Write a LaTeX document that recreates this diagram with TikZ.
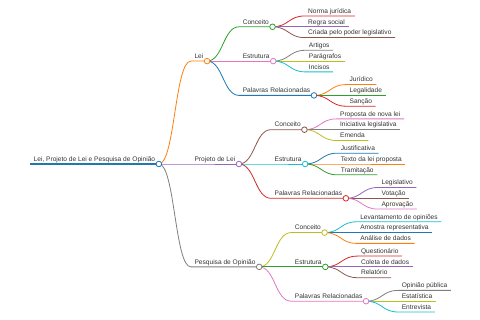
\documentclass[tikz,border=0pt]{standalone}
\usepackage{fontspec}
\setmainfont{Liberation Sans}
\usetikzlibrary{positioning,calc}

\definecolor{mmblue}{HTML}{1F77B4}
\definecolor{mmorange}{HTML}{FF7F0E}
\definecolor{mmgreen}{HTML}{2CA02C}
\definecolor{mmred}{HTML}{D62728}
\definecolor{mmpurple}{HTML}{9467BD}
\definecolor{mmbrown}{HTML}{8C564B}
\definecolor{mmpink}{HTML}{E377C2}
\definecolor{mmgray}{HTML}{7F7F7F}
\definecolor{mmolive}{HTML}{BCBD22}
\definecolor{mmcyan}{HTML}{17BECF}
\definecolor{txtgray}{HTML}{333333}

\tikzset{
  topic/.style={font=\fontsize{6.6}{7}\selectfont, text=txtgray, inner xsep=3.5pt,
    inner ysep=0pt, text height=5pt, text depth=2.5pt, anchor=south west},
  link/.style={line width=0.8pt},
  knob/.style={circle, draw, fill=white, line width=0.8pt, inner sep=0pt, minimum size=5.6pt},
}

\begin{document}
\begin{tikzpicture}[x=1pt, y=1pt]
    \useasboundingbox (0,0) rectangle (480,-320);
    % root
    \node[topic] (root) at (30,-164) {Lei, Projeto de Lei e Pesquisa de Opinião};
    % first level
    \node[right=32pt of root.south east, topic, yshift=102.9pt] (lei) {Lei};
    \node[right=32pt of root.south east, topic] (proj) {Projeto de Lei};
    \node[right=32pt of root.south east, topic, yshift=-102.9pt] (pesq) {Pesquisa de Opinião};
    % second level
    \node[right=32pt of lei.south east, topic, yshift=34.3pt] (lei-conc) {Conceito};
    \node[right=32pt of lei.south east, topic] (lei-estr) {Estrutura};
    \node[right=32pt of lei.south east, topic, yshift=-34.3pt] (lei-pal) {Palavras Relacionadas};
    \node[right=32pt of proj.south east, topic, yshift=34.3pt] (proj-conc) {Conceito};
    \node[right=32pt of proj.south east, topic] (proj-estr) {Estrutura};
    \node[right=32pt of proj.south east, topic, yshift=-34.3pt] (proj-pal) {Palavras Relacionadas};
    \node[right=32pt of pesq.south east, topic, yshift=34.3pt] (pesq-conc) {Conceito};
    \node[right=32pt of pesq.south east, topic] (pesq-estr) {Estrutura};
    \node[right=32pt of pesq.south east, topic, yshift=-34.3pt] (pesq-pal) {Palavras Relacionadas};
    % leaves
    \node[right=32pt of lei-conc.south east, topic, yshift=10.8pt] (lei-conc-1) {Norma jurídica};
    \node[right=32pt of lei-conc.south east, topic] (lei-conc-2) {Regra social};
    \node[right=32pt of lei-conc.south east, topic, yshift=-10.8pt] (lei-conc-3) {Criada pelo poder legislativo};
    \node[right=32pt of lei-estr.south east, topic, yshift=10.8pt] (lei-estr-1) {Artigos};
    \node[right=32pt of lei-estr.south east, topic] (lei-estr-2) {Parágrafos};
    \node[right=32pt of lei-estr.south east, topic, yshift=-10.8pt] (lei-estr-3) {Incisos};
    \node[right=32pt of lei-pal.south east, topic, yshift=10.8pt] (lei-pal-1) {Jurídico};
    \node[right=32pt of lei-pal.south east, topic] (lei-pal-2) {Legalidade};
    \node[right=32pt of lei-pal.south east, topic, yshift=-10.8pt] (lei-pal-3) {Sanção};
    \node[right=32pt of proj-conc.south east, topic, yshift=10.8pt] (proj-conc-1) {Proposta de nova lei};
    \node[right=32pt of proj-conc.south east, topic] (proj-conc-2) {Iniciativa legislativa};
    \node[right=32pt of proj-conc.south east, topic, yshift=-10.8pt] (proj-conc-3) {Emenda};
    \node[right=32pt of proj-estr.south east, topic, yshift=10.8pt] (proj-estr-1) {Justificativa};
    \node[right=32pt of proj-estr.south east, topic] (proj-estr-2) {Texto da lei proposta};
    \node[right=32pt of proj-estr.south east, topic, yshift=-10.8pt] (proj-estr-3) {Tramitação};
    \node[right=32pt of proj-pal.south east, topic, yshift=10.8pt] (proj-pal-1) {Legislativo};
    \node[right=32pt of proj-pal.south east, topic] (proj-pal-2) {Votação};
    \node[right=32pt of proj-pal.south east, topic, yshift=-10.8pt] (proj-pal-3) {Aprovação};
    \node[right=32pt of pesq-conc.south east, topic, yshift=10.8pt] (pesq-conc-1) {Levantamento de opiniões};
    \node[right=32pt of pesq-conc.south east, topic] (pesq-conc-2) {Amostra representativa};
    \node[right=32pt of pesq-conc.south east, topic, yshift=-10.8pt] (pesq-conc-3) {Análise de dados};
    \node[right=32pt of pesq-estr.south east, topic, yshift=10.8pt] (pesq-estr-1) {Questionário};
    \node[right=32pt of pesq-estr.south east, topic] (pesq-estr-2) {Coleta de dados};
    \node[right=32pt of pesq-estr.south east, topic, yshift=-10.8pt] (pesq-estr-3) {Relatório};
    \node[right=32pt of pesq-pal.south east, topic, yshift=10.8pt] (pesq-pal-1) {Opinião pública};
    \node[right=32pt of pesq-pal.south east, topic] (pesq-pal-2) {Estatística};
    \node[right=32pt of pesq-pal.south east, topic, yshift=-10.8pt] (pesq-pal-3) {Entrevista};

    % root underline
    \draw[mmblue, line width=1.6pt] (root.south west) -- (root.south east);
    % links and underlines
    \foreach \pa/\ch/\cl in {root/lei/mmorange, lei/lei-conc/mmgreen,
        lei-conc/lei-conc-1/mmred, lei-conc/lei-conc-2/mmpurple, lei-conc/lei-conc-3/mmbrown,
        lei/lei-estr/mmpink,
        lei-estr/lei-estr-1/mmgray, lei-estr/lei-estr-2/mmolive, lei-estr/lei-estr-3/mmcyan,
        lei/lei-pal/mmblue,
        lei-pal/lei-pal-1/mmorange, lei-pal/lei-pal-2/mmgreen, lei-pal/lei-pal-3/mmred,
        root/proj/mmpurple, proj/proj-conc/mmbrown,
        proj-conc/proj-conc-1/mmpink, proj-conc/proj-conc-2/mmgray, proj-conc/proj-conc-3/mmolive,
        proj/proj-estr/mmcyan,
        proj-estr/proj-estr-1/mmblue, proj-estr/proj-estr-2/mmorange, proj-estr/proj-estr-3/mmgreen,
        proj/proj-pal/mmred,
        proj-pal/proj-pal-1/mmpurple, proj-pal/proj-pal-2/mmbrown, proj-pal/proj-pal-3/mmpink,
        root/pesq/mmgray, pesq/pesq-conc/mmolive,
        pesq-conc/pesq-conc-1/mmcyan, pesq-conc/pesq-conc-2/mmblue, pesq-conc/pesq-conc-3/mmorange,
        pesq/pesq-estr/mmgreen,
        pesq-estr/pesq-estr-1/mmred, pesq-estr/pesq-estr-2/mmpurple, pesq-estr/pesq-estr-3/mmbrown,
        pesq/pesq-pal/mmpink,
        pesq-pal/pesq-pal-1/mmgray, pesq-pal/pesq-pal-2/mmolive, pesq-pal/pesq-pal-3/mmcyan}
      \draw[link, \cl] let \p1=(\pa.south east), \p2=(\ch.south west) in
        (\p1) .. controls ({(\x1+\x2)/2},\y1) and ({(\x1+\x2)/2},\y2) .. (\p2)
        -- (\ch.south east);
    % knobs on inner nodes
    \foreach \nd/\cl in {root/mmblue, lei/mmorange, proj/mmpurple, pesq/mmgray,
        lei-conc/mmgreen, lei-estr/mmpink, lei-pal/mmblue,
        proj-conc/mmbrown, proj-estr/mmcyan, proj-pal/mmred,
        pesq-conc/mmolive, pesq-estr/mmgreen, pesq-pal/mmpink}
      \node[knob, draw=\cl] (\nd-k) at (\nd.south east) {};
\end{tikzpicture}
\end{document}
